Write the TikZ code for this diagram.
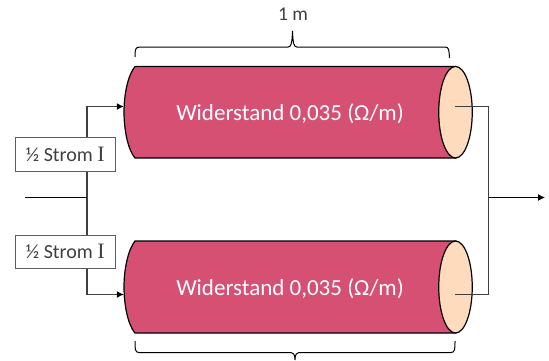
\documentclass[tikz,border=0pt]{standalone}
\usepackage{fontspec}
\setmainfont{Carlito}
\newfontfamily\serifI{Liberation Serif}
\usetikzlibrary{arrows.meta,shapes.geometric}
\definecolor{cyl}{HTML}{D55073}
\definecolor{capc}{HTML}{FEDBBC}
\definecolor{ink}{HTML}{404040}
\tikzset{
  cylbody/.style={fill=cyl,draw=black,line width=1.2pt},
  cylcap/.style={fill=capc,draw=black,line width=1.2pt},
  conn/.style={draw=ink,line width=1.3pt},
  connarrow/.style={conn,-{Latex[length=7pt,width=7pt,black]}},
  splitbox/.style={draw=ink!85,fill=white,line width=1pt,minimum width=100.5pt,minimum height=33.5pt,inner sep=0pt,text=ink,font=\fontsize{20}{24}\selectfont},
  cyllabel/.style={text=white,inner sep=0pt,font=\fontsize{23}{27}\selectfont},
  dimlabel/.style={text=ink,inner sep=0pt,font=\fontsize{19.5}{22}\selectfont},
  bracel/.style={draw=black,line width=1pt}
}
\begin{document}
\begin{tikzpicture}[x=1pt,y=-1pt]
\useasboundingbox (0,0) rectangle (549,360);
% cylinders
\draw[cylbody] (135,66.5) -- (456,66.5) -- (456,158) -- (135,158) .. controls (128,150) and (124,130) .. (124,112) .. controls (124,94) and (128,75) .. (135,66.5) -- cycle;
\draw[cylbody] (135,241) -- (456,241) -- (456,333) -- (135,333) .. controls (128,325) and (124,305) .. (124,287) .. controls (124,269) and (128,250) .. (135,241) -- cycle;
\node[draw=none,fill=none,inner sep=0pt,minimum size=0pt] (top) at (124,106.5) {};
\node[draw=none,fill=none,inner sep=0pt,minimum size=0pt] (bot) at (124,294.5) {};
\node[cylcap,ellipse,inner sep=0pt,minimum width=33.5pt,minimum height=91.5pt] (capA) at (455.5,112.2) {};
\node[cylcap,ellipse,inner sep=0pt,minimum width=33.5pt,minimum height=92pt] (capB) at (455.5,287) {};
\node[cyllabel] (lblA) at (290,114) {Widerstand 0,035 (Ω/m)};
\node[cyllabel] (lblB) at (290,289) {Widerstand 0,035 (Ω/m)};
% connection points
\coordinate (inL) at (25,197);
\coordinate (inJ) at (87,197);
\coordinate (upC) at (87,106.5);
\coordinate (dnC) at (87,294.5);
\coordinate (capAp) at (455,106.5);
\coordinate (capBp) at (455,294.5);
\coordinate (rA) at (488.5,106.5);
\coordinate (rB) at (488.5,294.5);
\coordinate (outJ) at (488.5,197.5);
\coordinate (outR) at (545,197.5);
% connectors
\draw[connarrow] (inJ) -- (upC) -- (top);
\draw[connarrow] (inJ) -- (dnC) -- (bot);
\draw[draw=black,line width=1pt] (25,197.5) -- (87,197.5);
\draw[conn] (capAp) -- (rA) -- (rB) -- (capBp);
\draw[draw=black,line width=1pt,-{Latex[length=7pt,width=7pt,black]}] (outJ) -- (outR);
% boxes
\node[splitbox] (boxA) at (65.3,154.4) {½ Strom {\serifI\fontsize{22}{24}\selectfont I}};
\node[splitbox] (boxB) at (65.3,251.8) {½ Strom {\serifI\fontsize{22}{24}\selectfont I}};
% braces
\draw[bracel] (135,57) .. controls (135,50) and (135,47) .. (140,47) -- (288,47) .. controls (291,47) and (292,44) .. (292.5,31) .. controls (293,44) and (294,47) .. (297,47) -- (445,47) .. controls (449,47) and (449,50) .. (449.5,58);
\draw[bracel] (135,341) .. controls (135,349) and (135,352.5) .. (139,352.5) -- (291,352.5) .. controls (293,352.5) and (295,354) .. (295,360) .. controls (295,354) and (297,352.5) .. (299,352.5) -- (451,352.5) .. controls (455,352.5) and (455,349) .. (455,341);
\node[dimlabel] (len) at (293,14.5) {1 m};
\end{tikzpicture}
\end{document}
